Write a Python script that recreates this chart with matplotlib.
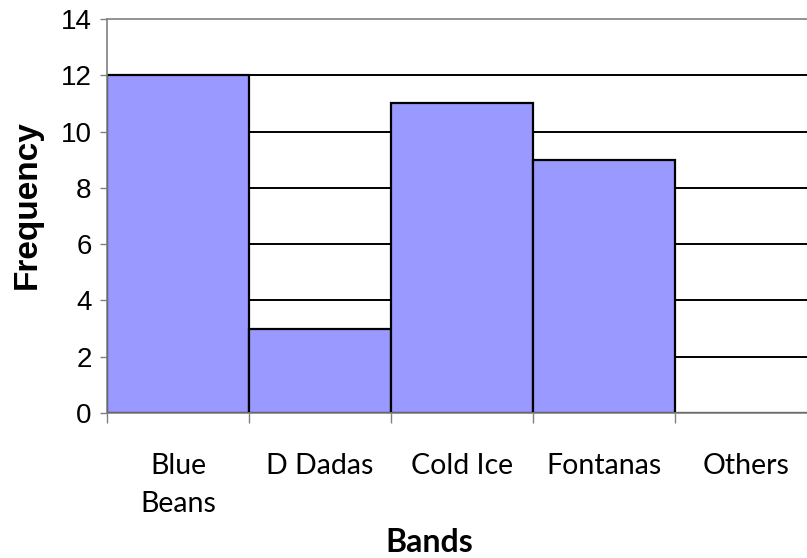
import numpy as np
import matplotlib as mpl
mpl.use('Agg')
import matplotlib.pyplot as plt

bands = ['Blue\nBeans', 'D Dadas', 'Cold Ice', 'Fontanas', 'Others']
frequency = [12, 3, 11, 9, 0]
yticks = [0, 2, 4, 6, 8, 10, 12, 14]

fig = plt.figure(figsize=(8.07, 5.58), dpi=100)
ax = fig.add_axes([0.1326, 0.2599, 0.8798, 0.7061])

x = np.arange(len(bands))
ax.bar(x, frequency, width=1.0, color='#9999ff', edgecolor='black',
       linewidth=1.6, zorder=2)

# black gridlines behind the bars
for y in yticks[1:-1]:
    ax.axhline(y, color='black', linewidth=1.4, zorder=0)

ax.set_xlim(-0.5, len(bands) - 0.5)
ax.set_ylim(0, 14)
ax.set_yticks(yticks)
ax.set_yticklabels([str(v) for v in yticks], family='Liberation Sans',
                   fontsize=20)
ax.tick_params(axis='y', direction='out', length=5, width=1,
               color='#808080', pad=6)

ax.set_xticks(x)
ax.set_xticklabels(bands, family='Lato', fontsize=20.5)
for lab in ax.get_xticklabels():
    lab.set_linespacing(1.55)
ax.tick_params(axis='x', which='major', length=0, pad=29)
ax.set_xticks(np.arange(len(bands)) - 0.5, minor=True)
ax.tick_params(axis='x', which='minor', direction='out', length=7,
               width=1, color='#808080')

for side in ['left', 'bottom', 'top']:
    ax.spines[side].set_color('#808080')
    ax.spines[side].set_linewidth(1.2)
ax.spines['right'].set_visible(False)

fig.text(27 / 807, 1 - 205 / 558, 'Frequency', rotation=90,
         family='Liberation Sans', weight='bold', fontsize=24,
         ha='center', va='center')
fig.text(429 / 807, 1 - 552 / 558, 'Bands', family='Lato', weight='bold',
         fontsize=23, ha='center', va='baseline')

fig.savefig('out.png', dpi=100)
